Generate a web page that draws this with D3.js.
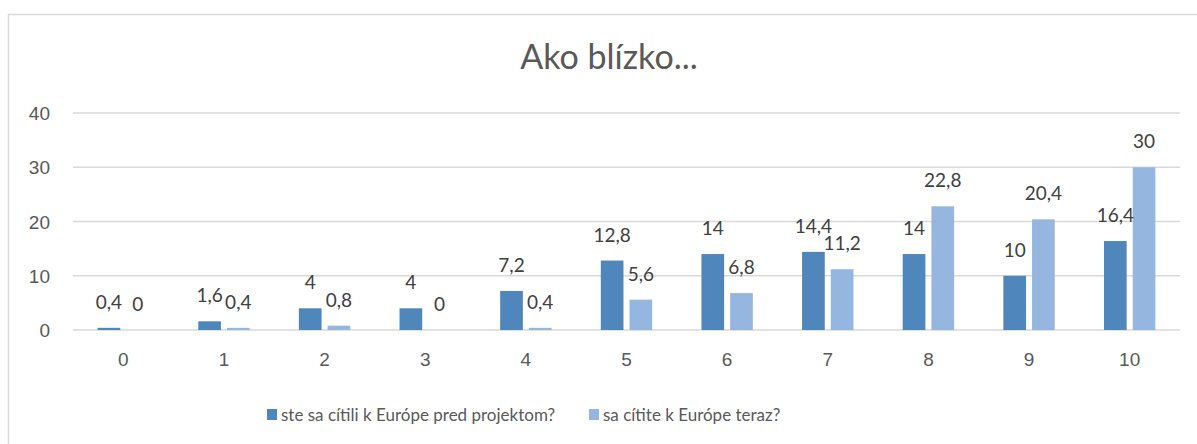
<!DOCTYPE html>
<html>
<head>
<meta charset="utf-8">
<script src="https://cdn.jsdelivr.net/npm/d3@7"></script>
<style>
  body { margin: 0; background: #fff; }
  svg { font-family: Lato, "Open Sans", sans-serif; }
</style>
</head>
<body>
<div id="chart"></div>
<script>
// Ako blízko... (hodnoty odčítané z grafu)
const categories = ["0", "1", "2", "3", "4", "5", "6", "7", "8", "9", "10"];
const seriesNames = ["ste sa cítili k Európe pred projektom?", "sa cítite k Európe teraz?"];
const before = [0.4, 1.6, 4, 4, 7.2, 12.8, 14, 14.4, 14, 10, 16.4];
const now = [0, 0.4, 0.8, 0, 0.4, 5.6, 6.8, 11.2, 22.8, 20.4, 30];
const yTicks = [0, 10, 20, 30, 40];
const colors = ["#4F87BD", "#95B7DF"];

const width = 1197, height = 444;
const svg = d3.select("#chart").append("svg")
  .attr("width", width)
  .attr("height", height);

// Chart border (runs off the right and bottom edges)
svg.append("rect")
  .attr("x", 8.5).attr("y", 14.5)
  .attr("width", 1300).attr("height", 600)
  .attr("fill", "#fff")
  .attr("stroke", "#D9D9D9")
  .attr("stroke-width", 1.5);

// Title
svg.append("text")
  .attr("x", 609).attr("y", 69)
  .attr("text-anchor", "middle")
  .attr("font-size", 34)
  .attr("fill", "#595959")
  .text("Ako blízko...");

const x = d3.scaleBand().domain(categories).range([73, 1180]);
const bw = x.bandwidth();
const x1 = d3.scaleBand().domain([0, 1]).range([bw / 2 - 25.7, bw / 2 + 25.7]).paddingInner(0.21);
const y = d3.scaleLinear().domain([0, 40]).range([330, 113]);

// Gridlines
svg.append("g").selectAll("line")
  .data(yTicks)
  .join("line")
  .attr("x1", 73).attr("x2", 1180)
  .attr("y1", d => y(d)).attr("y2", d => y(d))
  .attr("stroke", "#D9D9D9")
  .attr("stroke-width", 1.3);

// Y axis labels
const yAxis = svg.append("g")
  .attr("transform", "translate(50,0)")
  .call(d3.axisLeft(y).tickValues(yTicks).tickSize(0).tickPadding(0));
yAxis.select(".domain").remove();
yAxis.selectAll("text")
  .attr("font-family", null)
  .attr("font-size", 19)
  .attr("fill", "#595959")
  .attr("dy", "0.35em");

// X axis labels
const xAxis = svg.append("g")
  .attr("transform", "translate(0,352)")
  .call(d3.axisBottom(x).tickSize(0).tickPadding(0));
xAxis.select(".domain").remove();
xAxis.selectAll("text")
  .attr("font-family", null)
  .attr("font-size", 19)
  .attr("fill", "#595959")
  .attr("dy", "0.71em");

// Bars
const rows = categories.map((c, i) => ({ cat: c, vals: [before[i], now[i]] }));
const groups = svg.append("g").selectAll("g")
  .data(rows)
  .join("g")
  .attr("transform", d => `translate(${x(d.cat)},0)`);

groups.selectAll("rect")
  .data(d => d.vals.map((v, s) => ({ v, s })))
  .join("rect")
  .attr("x", d => x1(d.s))
  .attr("width", x1.bandwidth())
  .attr("y", d => y(d.v))
  .attr("height", d => y(0) - y(d.v))
  .attr("fill", d => colors[d.s]);

// Value labels
const fmt = v => String(v).replace(".", ",");
groups.selectAll("text")
  .data(d => d.vals.map((v, s) => ({ v, s })))
  .join("text")
  .attr("x", d => x1(d.s) + x1.bandwidth() / 2)
  .attr("y", d => y(d.v) - 19)
  .attr("text-anchor", "middle")
  .attr("font-size", 19)
  .attr("fill", "#404040")
  .text(d => fmt(d.v));

// Legend
const legendX = [267, 589];
const legend = svg.append("g").selectAll("g")
  .data(seriesNames)
  .join("g")
  .attr("transform", (d, i) => `translate(${legendX[i]},409)`);
legend.append("rect")
  .attr("width", 10).attr("height", 11)
  .attr("fill", (d, i) => colors[i]);
legend.append("text")
  .attr("x", 14).attr("y", 12)
  .attr("font-size", 17)
  .attr("fill", "#595959")
  .text(d => d);
</script>
</body>
</html>
